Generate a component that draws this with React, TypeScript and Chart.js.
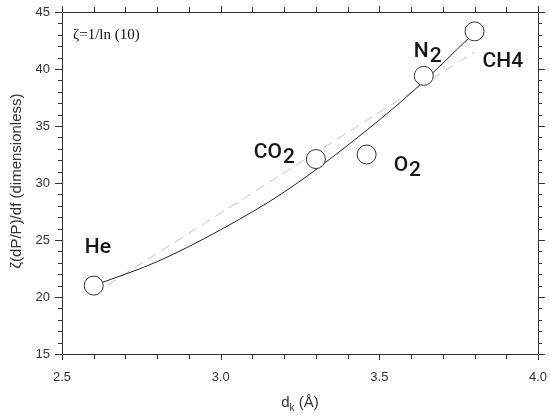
import React, { useEffect, useRef } from "react";
import { Chart, registerables } from "chart.js";
Chart.register(...registerables);

// Data
const gasNames = ["He", "CO2", "O2", "N2", "CH4"];
const kineticDiameter = [2.6, 3.3, 3.46, 3.64, 3.8];
const zetaValues = [21.0, 32.1, 32.5, 39.4, 43.3];
// Solid (quadratic) fit curve
const curveX = [2.6, 2.8, 3.0, 3.2, 3.4, 3.6, 3.8];
const curveY = [21.0, 23.1, 25.9, 29.2, 33.3, 37.9, 43.2];
// Dashed (linear) fit
const linearX = [2.6, 3.8];
const linearY = [20.3, 41.5];
// Axes
const xTickLabels = ["2.5", "3.0", "3.5", "4.0"];
const yTickLabels = ["15", "20", "25", "30", "35", "40", "45"];
const xMinorStep = 0.1;
const yMinorStep = 1;

// label styling
const labelStyle: Record<string, { main: string; sub: string; dx: number; dy: number }> = {
  He: { main: "He", sub: "", dx: -9, dy: -33 },
  CO2: { main: "CO", sub: "2", dx: -62, dy: -1 },
  O2: { main: "O", sub: "2", dx: 27, dy: 16 },
  N2: { main: "N", sub: "2", dx: -10, dy: -19 },
  CH4: { main: "CH4", sub: "", dx: 8, dy: 36 },
};

const decorPlugin = {
  id: "decor",
  afterDraw(chart: any) {
    const { ctx, chartArea: a, scales } = chart;
    const xs = scales.x;
    const ys = scales.y;
    ctx.save();
    ctx.strokeStyle = "#333";
    ctx.lineWidth = 1;
    ctx.strokeRect(Math.round(a.left) + 0.5, Math.round(a.top) + 0.5, Math.round(a.right - a.left), Math.round(a.bottom - a.top));
    const xMin = xs.min, xMax = xs.max;
    const nX = Math.round((xMax - xMin) / xMinorStep);
    for (let i = 0; i <= nX; i++) {
      const v = xMin + i * xMinorStep;
      const px = Math.round(xs.getPixelForValue(v)) + 0.5;
      const major = i % 5 === 0;
      const len = major ? 6 : 5;
      ctx.beginPath();
      ctx.moveTo(px, a.bottom);
      ctx.lineTo(px, a.bottom + len);
      ctx.moveTo(px, a.top);
      ctx.lineTo(px, a.top - len);
      ctx.stroke();
    }
    const yMin = ys.min, yMax = ys.max;
    const nY = Math.round((yMax - yMin) / yMinorStep);
    for (let i = 0; i <= nY; i++) {
      const v = yMin + i * yMinorStep;
      const py = Math.round(ys.getPixelForValue(v)) + 0.5;
      const major = i % 5 === 0;
      const len = major ? 7 : 4;
      ctx.beginPath();
      ctx.moveTo(a.left, py);
      ctx.lineTo(a.left - len, py);
      ctx.moveTo(a.right, py);
      ctx.lineTo(a.right + len, py);
      ctx.stroke();
    }
    ctx.fillStyle = "#333";
    ctx.font = "13px 'Liberation Sans', Arial, sans-serif";
    ctx.textAlign = "center";
    ctx.textBaseline = "top";
    xTickLabels.forEach((t) => {
      ctx.fillText(t, xs.getPixelForValue(parseFloat(t)), a.bottom + 17);
    });
    ctx.textAlign = "right";
    ctx.textBaseline = "middle";
    yTickLabels.forEach((t) => {
      ctx.fillText(t, a.left - 12, ys.getPixelForValue(parseFloat(t)));
    });
    ctx.font = "15px 'Liberation Sans', Arial, sans-serif";
    ctx.textBaseline = "alphabetic";
    ctx.textAlign = "left";
    const cx = (a.left + a.right) / 2;
    const dW = ctx.measureText("d").width;
    ctx.font = "10px 'Liberation Sans', Arial, sans-serif";
    const kW = ctx.measureText("k").width;
    ctx.font = "15px 'Liberation Sans', Arial, sans-serif";
    const restW = ctx.measureText(" (Å)").width;
    const total = dW + kW + restW;
    const x0 = cx - total / 2;
    const base = a.bottom + 53;
    ctx.fillText("d", x0, base);
    ctx.font = "10px 'Liberation Sans', Arial, sans-serif";
    ctx.fillText("k", x0 + dW, base + 4);
    ctx.font = "15px 'Liberation Sans', Arial, sans-serif";
    ctx.fillText(" (Å)", x0 + dW + kW, base);
    ctx.save();
    ctx.translate(17, (a.top + a.bottom) / 2 - 2);
    ctx.rotate(-Math.PI / 2);
    ctx.textAlign = "center";
    ctx.textBaseline = "middle";
    ctx.font = "15px 'Liberation Sans', Arial, sans-serif";
    ctx.fillText("ζ(dP/P)/df (dimensionless)", 0, 0);
    ctx.restore();
    ctx.fillStyle = "#111";
    ctx.font = "15px 'Liberation Serif', 'Times New Roman', serif";
    ctx.textAlign = "left";
    ctx.fillText("ζ=1/ln (10)", a.left + 11, a.top + 27);
    ctx.fillStyle = "#151515";
    gasNames.forEach((g, i) => {
      const s = labelStyle[g];
      const px = xs.getPixelForValue(kineticDiameter[i]) + s.dx;
      const py = ys.getPixelForValue(zetaValues[i]) + s.dy;
      ctx.font = "500 21px Roboto, 'DejaVu Sans', sans-serif";
      ctx.textAlign = "left";
      ctx.textBaseline = "alphabetic";
      ctx.fillText(s.main, px, py);
      if (s.sub) {
        const w = ctx.measureText(s.main).width;
        ctx.fillText(s.sub, px + w + 1, py + 5);
      }
    });
    ctx.restore();
  },
};

export default function App() {
  const ref = useRef<HTMLCanvasElement | null>(null);
  useEffect(() => {
    document.body.style.margin = "0";
    const canvas = ref.current;
    if (!canvas) return;
    const chart = new Chart(canvas, {
      type: "line",
      data: {
        datasets: [
          {
            label: "gases",
            data: kineticDiameter.map((x, i) => ({ x, y: zetaValues[i] })),
            showLine: false,
            pointRadius: 9.5,
            pointHoverRadius: 9.5,
            pointBackgroundColor: "#fff",
            pointBorderColor: "#333",
            pointBorderWidth: 1,
            order: 0,
          },
          {
            label: "quadratic",
            data: curveX.map((x, i) => ({ x, y: curveY[i] })),
            borderColor: "#222",
            borderWidth: 1,
            pointRadius: 0,
            cubicInterpolationMode: "monotone",
            fill: false,
            order: 1,
          },
          {
            label: "linear",
            data: linearX.map((x, i) => ({ x, y: linearY[i] })),
            borderColor: "#c4c4c4",
            borderWidth: 1,
            borderDash: [10, 6],
            pointRadius: 0,
            fill: false,
            order: 2,
          },
        ],
      },
      options: {
        responsive: false,
        animation: false,
        events: [],
        layout: { padding: { top: 12, right: 12, left: 0, bottom: 0 } },
        plugins: { legend: { display: false }, tooltip: { enabled: false } },
        scales: {
          x: {
            type: "linear",
            min: 2.5,
            max: 4.0,
            grid: { display: false, drawTicks: false },
            border: { display: false },
            ticks: { display: false },
            afterFit: (s: any) => {
              s.height = 63;
            },
          },
          y: {
            type: "linear",
            min: 15,
            max: 45,
            grid: { display: false, drawTicks: false },
            border: { display: false },
            ticks: { display: false },
            afterFit: (s: any) => {
              s.width = 62;
            },
          },
        },
      } as any,
      plugins: [decorPlugin],
    });
    return () => chart.destroy();
  }, []);
  return (
    <div style={{ width: 550, height: 417 }}>
      <canvas ref={ref} width={550} height={417} style={{ display: "block" }} />
    </div>
  );
}
